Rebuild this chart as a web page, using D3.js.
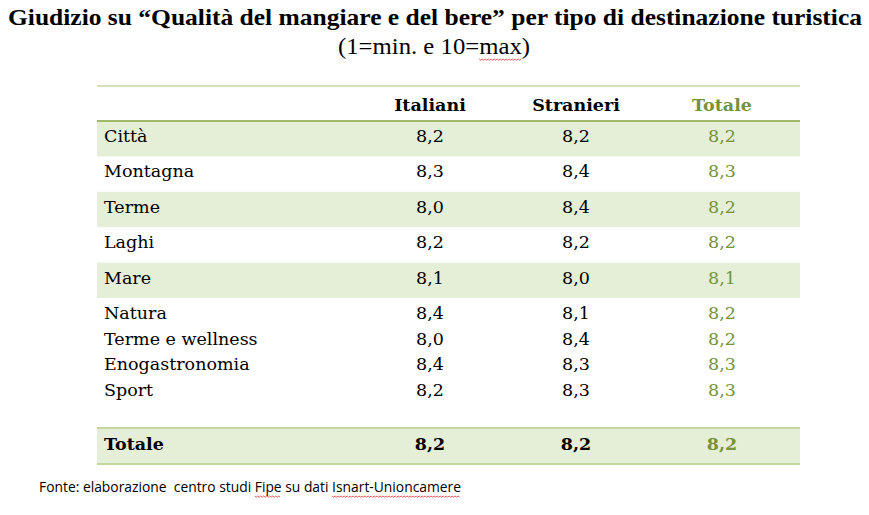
<!DOCTYPE html>
<html><head><meta charset="utf-8">
<script src="https://cdn.jsdelivr.net/npm/d3@7"></script>
<style>body{margin:0;background:#fff}</style>
</head><body>
<script>
const title = "Giudizio su \u201cQualità del mangiare e del bere\u201d per tipo di destinazione turistica";
const subtitle = "(1=min. e 10=max)";
const source = "Fonte: elaborazione  centro studi Fipe su dati Isnart-Unioncamere";
const columns = ["Italiani", "Stranieri", "Totale"];
const mainCategories = ["Città", "Montagna", "Terme", "Laghi", "Mare"];
const mainItaliani = ["8,2", "8,3", "8,0", "8,2", "8,1"];
const mainStranieri = ["8,2", "8,4", "8,4", "8,2", "8,0"];
const mainTotale = ["8,2", "8,3", "8,2", "8,2", "8,1"];
const subCategories = ["Natura", "Terme e wellness", "Enogastronomia", "Sport"];
const subItaliani = ["8,4", "8,0", "8,4", "8,2"];
const subStranieri = ["8,1", "8,4", "8,3", "8,3"];
const subTotale = ["8,2", "8,2", "8,3", "8,3"];
const totalLabel = "Totale";
const totalValues = ["8,2", "8,2", "8,2"];

const W = 869, H = 515;
const serif = "'DejaVu Serif', serif";
const fs = "17.5px";
const green = "#76923c", band = "#e5eed6", lineLight = "#d3e1b8", lineDark = "#9fb86a", lineTot = "#c3d69b";
const svg = d3.select("body").append("svg").attr("width", W).attr("height", H);

svg.append("text").attr("x", 8).attr("y", 25).attr("textLength", 854).attr("lengthAdjust", "spacingAndGlyphs")
  .style("font-family", "'Liberation Serif', serif").style("font-weight", "bold").style("font-size", "23px").attr("fill", "#000").text(title);
const sub = svg.append("text").attr("x", 338).attr("y", 54).attr("textLength", 192).attr("lengthAdjust", "spacingAndGlyphs")
  .style("font-family", "'Liberation Serif', serif").style("font-size", "23px").attr("fill", "#000").text(subtitle);

const x0 = 97, x1 = 800;
const xCol = d3.scalePoint().domain(columns).range([430, 722]);
const colFill = c => c === "Totale" ? green : "#000";

svg.append("rect").attr("x", x0).attr("y", 85).attr("width", x1 - x0).attr("height", 2).attr("fill", lineLight);

svg.selectAll("text.hdr").data(columns).join("text").attr("class", "hdr")
  .attr("x", d => xCol(d)).attr("y", 111).attr("text-anchor", "middle")
  .style("font-family", serif).style("font-weight", "bold").style("font-size", fs)
  .attr("fill", colFill).text(d => d);

const yMain = d3.scaleBand().domain(mainCategories).range([121, 298]).padding(0);
mainCategories.forEach((c, i) => {
  if (i % 2 === 0) svg.append("rect").attr("x", x0).attr("y", yMain(c)).attr("width", x1 - x0).attr("height", yMain.bandwidth()).attr("fill", band);
});
svg.append("rect").attr("x", x0).attr("y", 120).attr("width", x1 - x0).attr("height", 2).attr("fill", lineDark);

function drawRow(label, vals, y, bold) {
  const g = svg.append("g").style("font-family", serif).style("font-size", fs).style("font-weight", bold ? "bold" : "normal");
  g.append("text").attr("x", 104).attr("y", y).attr("fill", "#000").text(label);
  columns.forEach((c, j) => {
    g.append("text").attr("x", xCol(c)).attr("y", y).attr("text-anchor", "middle").attr("fill", colFill(c)).text(vals[j]);
  });
}
mainCategories.forEach((c, i) => drawRow(c, [mainItaliani[i], mainStranieri[i], mainTotale[i]], yMain(c) + 21, false));

const ySub = d3.scalePoint().domain(subCategories).range([319, 396]);
subCategories.forEach((c, i) => drawRow(c, [subItaliani[i], subStranieri[i], subTotale[i]], ySub(c), false));

svg.append("rect").attr("x", x0).attr("y", 428).attr("width", x1 - x0).attr("height", 36).attr("fill", band);
svg.append("rect").attr("x", x0).attr("y", 427).attr("width", x1 - x0).attr("height", 2).attr("fill", lineTot);
svg.append("rect").attr("x", x0).attr("y", 463).attr("width", x1 - x0).attr("height", 2).attr("fill", lineTot);
drawRow(totalLabel, totalValues, 450, true);

const src = svg.append("text").attr("x", 39).attr("y", 492).style("font-family", "'Open Sans', sans-serif").style("font-size", "13.7px")
  .style("white-space", "pre").attr("xml:space", "preserve")
  .attr("textLength", 422).attr("lengthAdjust", "spacingAndGlyphs")
  .attr("fill", "#000").text(source);

// spell-check squiggles
function squiggle(textSel, word, y) {
  const node = textSel.node();
  const s = node.textContent, i = s.indexOf(word);
  const a = node.getStartPositionOfChar(i).x, b = node.getEndPositionOfChar(i + word.length - 1).x;
  const pts = [];
  for (let x = a, k = 0; x <= b; x += 1.5, k++) pts.push([x, y + (k % 2 ? 1.2 : 0)]);
  svg.append("path").attr("d", d3.line()(pts)).attr("fill", "none").attr("stroke", "#e03030").attr("stroke-width", 0.8);
}
squiggle(sub, "max", 59);
squiggle(src, "Fipe", 496);
squiggle(src, "Isnart-Unioncamere", 496);
</script>
</body></html>
